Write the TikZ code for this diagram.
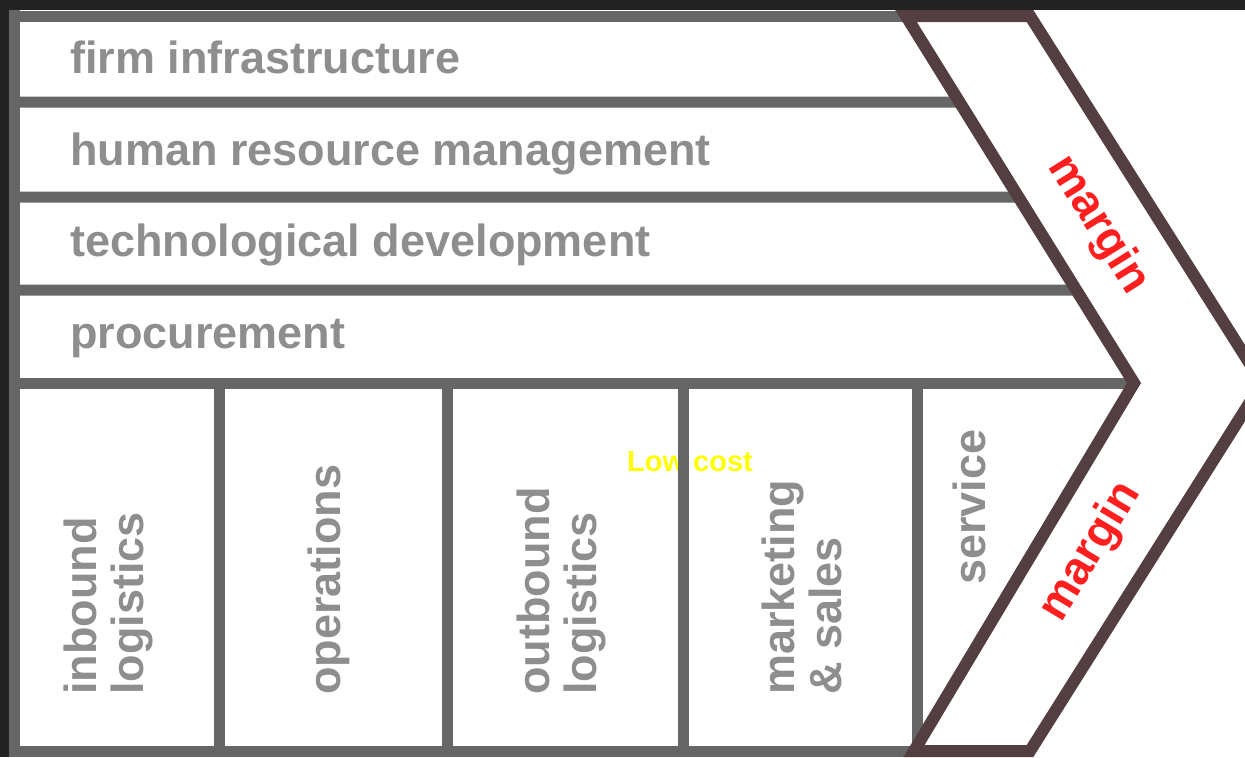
\documentclass[tikz,border=0pt]{standalone}
\usepackage{fontspec}
\setmainfont{Liberation Sans}
\usetikzlibrary{calc}
\definecolor{framegray}{HTML}{666666}
\definecolor{labelgray}{HTML}{8E8E8E}
\definecolor{chevronbrown}{HTML}{533F41}
\definecolor{marginred}{HTML}{FF1F1F}
\definecolor{costyellow}{HTML}{FFFF00}
\definecolor{screendark}{HTML}{232323}

\begin{document}
\begin{tikzpicture}[x=0.5pt,y=-0.5pt,
    frameline/.style={framegray, line width=5.5pt},
    rowlabel/.style={labelgray, font=\fontsize{22.5}{27}\selectfont\bfseries,
      anchor=base west, inner sep=0pt},
    collabel/.style={labelgray, font=\fontsize{22.5}{23.5}\selectfont\bfseries,
      rotate=90, anchor=west, align=left, inner sep=0pt},
    marginlabel/.style={marginred, font=\fontsize{23}{27}\selectfont\bfseries,
      inner sep=0pt}]
    % Canvas
    \useasboundingbox (0,0) rectangle (1245,757);
    \fill[white] (0,0) rectangle (1245,757);
    \fill[screendark] (0,0) rectangle (1245,10);
    \fill[screendark] (0,0) rectangle (9.5,757);
    % Chevron corners
    \coordinate (ct) at (906,16);
    \coordinate (ctr) at (1030,16);
    \coordinate (ctip) at (1262,383);
    \coordinate (cbr) at (1030,751);
    \coordinate (cb) at (914,751);
    \coordinate (cp) at (1134,383);
    % Low cost note
    \node[costyellow, font=\fontsize{14.5}{17}\selectfont\bfseries, inner sep=0pt]
      (lowcost) at (690,462) {Low cost};
    % Frame
    \draw[frameline] (9.5,16) -- (ct);
    \draw[frameline] (14.5,10) -- (14.5,757);
    \draw[frameline] (9.5,751.5) -- (cb |- 0,751.5);
    % Support activity rows
    \foreach \y in {102,197,290,383}
      \draw[frameline] (14.5,\y) -- ($(ct)!{(\y-16)/367}!(cp)$);
    % Primary activity columns
    \foreach \x in {219,447,683,917}
      \draw[frameline] (\x,383) -- (\x,751);
    % Margin chevron
    \draw[chevronbrown, line width=6pt, fill=white, line join=miter, miter limit=10]
      (ct) -- (ctr) -- (ctip) -- (cbr) -- (cb) -- (cp) -- cycle;
    % Support activities
    \node[rowlabel] (infra) at (70,73) {firm infrastructure};
    \node[rowlabel] (hrm) at (70,165) {human resource management};
    \node[rowlabel] (tech) at (70,256) {technological development};
    \node[rowlabel] (proc) at (70,348) {procurement};
    % Primary activities
    \node[collabel] (inbound) at (108,695) {inbound\\logistics};
    \node[collabel] (ops) at (329,695) {operations};
    \node[collabel] (outbound) at (561,695) {outbound\\logistics};
    \node[collabel] (mkt) at (802,695) {marketing\\\& sales};
    \node[collabel] (svc) at (969,585) {service};
    % Margin labels
    \node[marginlabel, rotate=-58] (margintop) at (1098,225) {margin};
    \node[marginlabel, rotate=59] (marginbot) at (1091,552) {margin};
\end{tikzpicture}
\end{document}
